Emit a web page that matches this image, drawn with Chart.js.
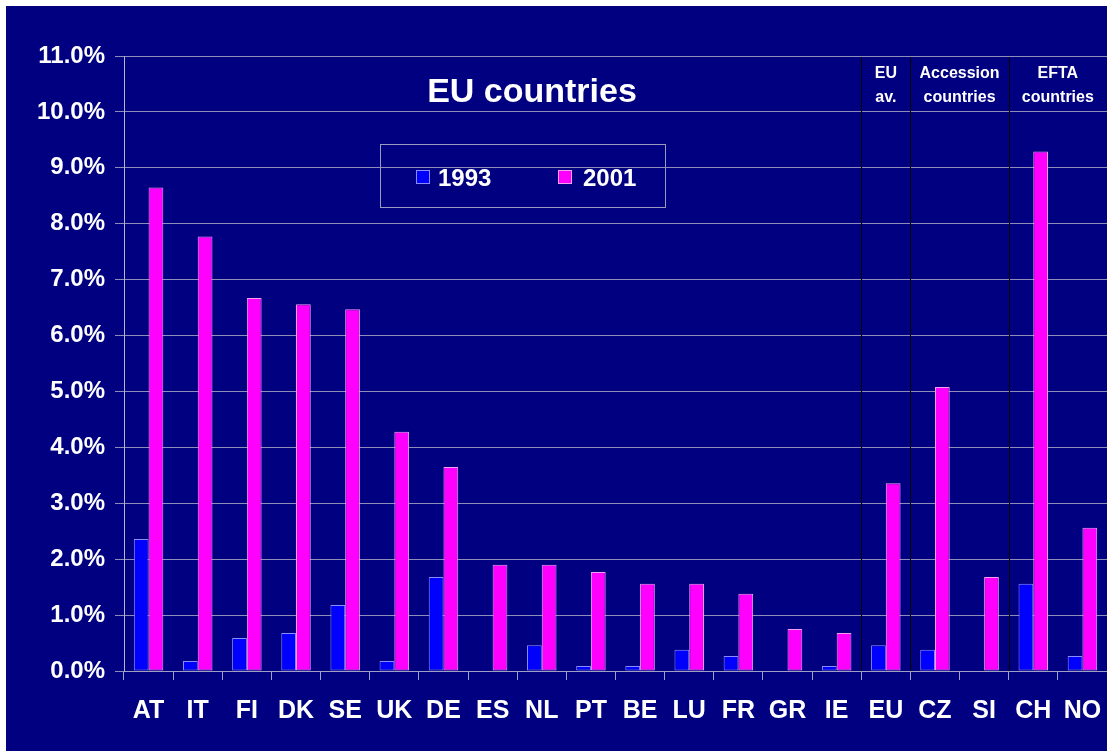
<!DOCTYPE html>
<html>
<head>
<meta charset="UTF-8">
<title>EU countries</title>
<script src="https://cdn.jsdelivr.net/npm/chart.js"></script>
<style>
    body { margin: 0; background: #ffffff; }
    #chart {
        position: absolute;
        left: 6px;
        top: 6px;
        background: #000080;
    }
</style>
</head>
<body>
<canvas id="chart" width="1101" height="745"></canvas>
<script>
const categories = ['AT', 'IT', 'FI', 'DK', 'SE', 'UK', 'DE', 'ES', 'NL', 'PT', 'BE', 'LU', 'FR', 'GR', 'IE', 'EU', 'CZ', 'SI', 'CH', 'NO'];
const seriesNames = ['1993', '2001'];
const values1993 = [2.36, 0.18, 0.59, 0.68, 1.18, 0.18, 1.68, 0, 0.46, 0.09, 0.09, 0.38, 0.27, 0, 0.09, 0.46, 0.38, 0, 1.56, 0.27];
const values2001 = [8.65, 7.77, 6.67, 6.56, 6.47, 4.28, 3.65, 1.90, 1.90, 1.77, 1.56, 1.56, 1.38, 0.75, 0.68, 3.36, 5.08, 1.68, 9.29, 2.56];
// group headings on the right side and the category boundaries they sit between
const groupNames = [['EU', 'av.'], ['Accession', 'countries'], ['EFTA', 'countries']];
const groupSpans = [[14.5, 15.5], [15.5, 17.5], [17.5, 19.5]];
const titleText = 'EU countries';

const FONT = '"Liberation Sans", Arial, sans-serif';
const colors = ['#0000ff', '#ff00ff'];
const borders = ['#8c8cff', '#f0a0f0'];

const extras = {
    id: 'extras',
    beforeDatasetsDraw(chart) {
        const ctx = chart.ctx;
        const x = chart.scales.x;
        const area = chart.chartArea;
        ctx.save();
        ctx.fillStyle = '#000000';
        groupSpans.forEach(span => {
            const px = Math.round(x.getPixelForValue(span[0]));
            ctx.fillRect(px, area.top + 1, 1, area.bottom - area.top - 1);
        });
        ctx.restore();
    },
    afterDraw(chart) {
        const ctx = chart.ctx;
        const x = chart.scales.x;
        ctx.save();
        ctx.fillStyle = '#ffffff';
        ctx.textAlign = 'center';
        ctx.textBaseline = 'alphabetic';

        // title
        ctx.font = 'bold 34px ' + FONT;
        ctx.fillText(titleText, 526, 96);

        // group headings
        ctx.font = 'bold 16px ' + FONT;
        groupNames.forEach((lines, i) => {
            const cx = (x.getPixelForValue(groupSpans[i][0]) + x.getPixelForValue(groupSpans[i][1])) / 2;
            ctx.fillText(lines[0], cx, 72);
            ctx.fillText(lines[1], cx, 96);
        });

        // legend box
        ctx.strokeStyle = '#9a9ac0';
        ctx.lineWidth = 1;
        ctx.strokeRect(374.5, 138.5, 285, 63);
        const items = [[410, 432], [552, 577]];
        ctx.font = 'bold 24px ' + FONT;
        ctx.textAlign = 'left';
        chart.data.datasets.forEach((ds, i) => {
            ctx.fillStyle = ds.backgroundColor;
            ctx.fillRect(items[i][0], 164, 14, 14);
            ctx.strokeStyle = ds.borderColor;
            ctx.strokeRect(items[i][0] + 0.5, 164.5, 13, 13);
            ctx.fillStyle = '#ffffff';
            ctx.fillText(ds.label, items[i][1], 180);
        });
        ctx.restore();
    }
};

new Chart(document.getElementById('chart'), {
    type: 'bar',
    data: {
        labels: categories,
        datasets: [
            { label: seriesNames[0], data: values1993, backgroundColor: colors[0], borderColor: borders[0] },
            { label: seriesNames[1], data: values2001, backgroundColor: colors[1], borderColor: borders[1] }
        ]
    },
    options: {
        responsive: false,
        animation: false,
        layout: { padding: { top: 50, right: 0, bottom: 0, left: 0 } },
        datasets: {
            bar: {
                categoryPercentage: 0.6,
                barPercentage: 1.0,
                borderWidth: c => (c.raw ? 1 : 0),
                borderSkipped: false
            }
        },
        plugins: {
            legend: { display: false },
            tooltip: { enabled: false }
        },
        scales: {
            x: {
                afterFit(scale) {
                    scale.height = 80;
                    scale.paddingLeft = 0;
                    scale.paddingRight = 0;
                },
                grid: {
                    drawOnChartArea: false,
                    drawTicks: true,
                    tickLength: 9,
                    color: '#a0a0c4'
                },
                border: { color: '#a0a0c4' },
                ticks: {
                    color: '#ffffff',
                    padding: 16,
                    font: { family: FONT, size: 25, weight: 'bold' }
                }
            },
            y: {
                min: 0,
                max: 11,
                afterFit(scale) { scale.width = 118; },
                grid: {
                    color: '#8e8eb8',
                    tickLength: 9
                },
                border: { color: '#b4b4d0' },
                ticks: {
                    stepSize: 1,
                    color: '#ffffff',
                    padding: 10,
                    font: { family: FONT, size: 24, weight: 'bold' },
                    callback: v => v.toFixed(1) + '%'
                }
            }
        }
    },
    plugins: [extras]
});
</script>
</body>
</html>
